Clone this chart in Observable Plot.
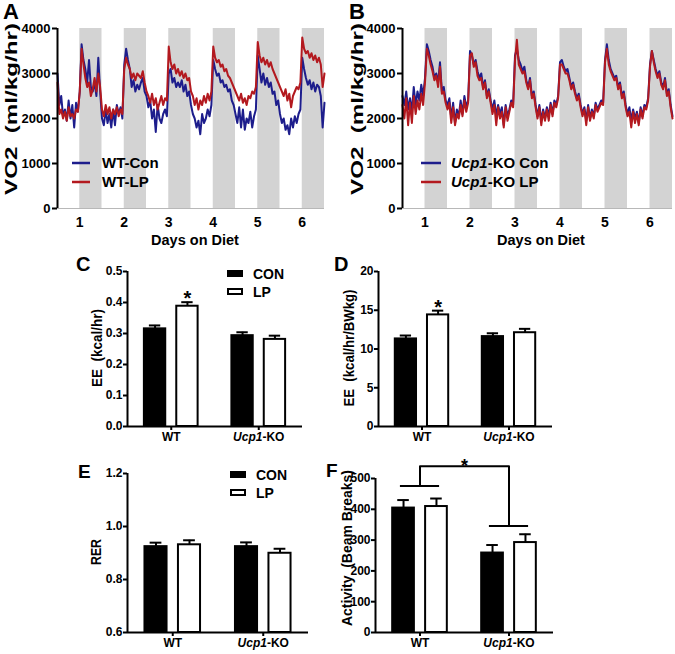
<!DOCTYPE html>
<html><head><meta charset="utf-8">
<script src="https://cdn.jsdelivr.net/npm/d3@7"></script>
<script src="https://cdn.jsdelivr.net/npm/@observablehq/plot@0.6"></script>
<style>
body{margin:0;background:#fff;}
#fig{position:relative;width:675px;height:654px;overflow:hidden;font-family:"Liberation Sans",Arial,sans-serif;font-weight:bold;}
#fig svg{position:absolute;}
</style></head><body><div id="fig"></div>
<script>
// ---------- DATA ----------
// VO2 time course, hourly samples, hours 0..144
const hours = d3.range(0, 145);
const darkStart = [12, 36, 60, 84, 108, 132];
const darkEnd = [24, 48, 72, 96, 120, 144];
const dayLabels = ["1", "2", "3", "4", "5", "6"];
const vo2Ticks = [0, 1000, 2000, 3000, 4000];

const wtCon = [
 3000,2300,2500,2050,2200,1950,2400,2000,2300,1800,2350,2150,
 2600,3650,3300,3100,2800,3300,2700,2600,2800,2500,3350,2600,
 2000,1850,2200,1900,2100,1800,2200,1850,2300,2100,2250,2000,
 3200,3550,3300,3100,2700,2850,2600,2750,2650,2800,2900,2600,
 2500,2250,2400,2000,2200,1700,2300,2000,1900,2100,2200,2050,
 3000,3100,2800,2900,2700,2800,2700,2850,2600,2750,2500,2600,
 2300,2100,2000,1800,1950,1650,2100,1900,2000,2200,2050,2300,
 3300,3100,2950,3000,2800,2850,2700,2750,2600,2650,2400,2300,
 2100,1900,2250,1800,2200,1750,2000,1900,2150,1800,2050,2200,
 3400,3100,2800,3000,2750,2900,2700,2800,2550,2600,2300,2400,
 2100,1900,2000,1750,1850,1650,2000,1800,2050,1900,2100,2200,
 3350,3100,2900,2750,2850,2650,2800,2600,2750,2700,2500,1800,2350];
const wtLP = [
 2800,2100,2200,2000,2150,1950,2250,2050,2100,2000,2200,2150,
 2600,3550,3200,2900,2700,2800,2500,2650,2900,2600,3000,2700,
 2200,2050,2300,2100,2250,2000,2200,2100,2250,2050,2200,2100,
 3100,3350,3200,3100,2900,3000,2850,3000,2950,2900,3050,2800,
 2600,2500,2350,2550,2300,2450,2200,2350,2500,2300,2450,2400,
 3600,3250,3100,3200,3000,3100,2950,3050,2900,3000,2850,2900,
 2600,2500,2300,2450,2200,2400,2300,2500,2350,2550,2400,2600,
 3600,3350,3250,3300,3150,3200,3050,3100,2950,2900,2800,2700,
 2600,2500,2400,2550,2350,2450,2300,2500,2450,2600,2550,2700,
 3700,3400,3250,3350,3200,3300,3150,3250,3100,3000,2900,2800,
 2700,2600,2500,2650,2400,2550,2250,2500,2600,2700,2650,2800,
 3800,3550,3450,3500,3350,3450,3300,3400,3250,3350,3200,2700,3000];
const koCon = [
 2500,2300,2600,2200,2450,2150,2700,2300,2600,2400,2750,2500,
 2900,3650,3500,3300,3150,2900,3000,2800,3250,2600,2700,2400,
 2300,2450,2000,2350,1900,2200,2050,2400,2100,2500,2250,2400,
 3500,3400,3200,3300,3050,2900,3000,2700,2850,2500,2650,2400,
 2200,2400,2050,2300,2100,2250,1850,2300,2050,2200,2400,2300,
 3400,3550,3300,3200,3050,3150,2850,2700,2900,2500,2600,2300,
 2050,2300,1950,2200,2000,2250,2050,2350,2100,2400,2300,2500,
 3250,3300,3150,3050,3100,2900,2700,2800,2600,2450,2550,2300,
 2100,2250,1950,2300,2000,2200,2050,2350,2200,2300,2400,2350,
 3300,3650,3300,3100,3000,2900,2950,2700,2800,2500,2600,2300,
 2100,2250,1950,2200,2000,2150,1900,2250,2050,2300,2250,2450,
 3200,3500,3300,3100,2950,3050,2800,2700,2900,2550,2650,2300,2050];
const koLP = [
 2300,2000,2450,1850,2350,1900,2500,2100,2400,2200,2550,2300,
 2800,3550,3400,3200,3050,2850,2950,2700,3150,2550,2600,2350,
 2200,2350,1900,2250,1850,2100,2000,2300,2050,2400,2150,2350,
 3400,3450,3150,3250,2950,2850,2900,2650,2800,2450,2600,2350,
 2100,2300,1850,2250,2000,2150,1800,2250,1950,2150,2350,2250,
 3300,3750,3200,3100,3000,3050,2800,2650,2850,2450,2550,2250,
 2000,2250,1850,2150,1950,2200,1950,2300,2050,2350,2250,2450,
 3200,3200,3100,3000,3000,2850,2650,2750,2550,2400,2500,2250,
 2050,2200,1850,2250,1950,2150,2000,2300,2150,2250,2350,2300,
 3250,3550,3200,3050,2950,2850,2900,2650,2750,2450,2550,2250,
 2050,2150,1800,2150,1900,2100,1850,2200,2000,2250,2200,2400,
 3150,3500,3250,3050,2900,3000,2750,2650,2850,2500,2600,2250,2000];

// Bar panels: groups x diets
const groups = ["WT", "Ucp1-KO"];
const diets = ["CON", "LP"];
// C: EE (kcal/hr)
const eeHrCON = [0.315, 0.293], eeHrLP = [0.388, 0.281];
const eeHrCONsem = [0.011, 0.011], eeHrLPsem = [0.013, 0.012];
const eeHrTicks = [0, 0.1, 0.2, 0.3, 0.4, 0.5];
// D: EE (kcal/hr/BWkg)
const eeKgCON = [11.3, 11.6], eeKgLP = [14.4, 12.1];
const eeKgCONsem = [0.44, 0.43], eeKgLPsem = [0.55, 0.5];
const eeKgTicks = [0, 5, 10, 15, 20];
// E: RER
const rerCON = [0.924, 0.924], rerLP = [0.931, 0.899];
const rerCONsem = [0.015, 0.016], rerLPsem = [0.017, 0.017];
const rerTicks = [0.6, 0.8, 1.0, 1.2];
// F: Activity (beam breaks)
const actCON = [404, 258], actLP = [409, 292];
const actCONsem = [26, 26], actLPsem = [26, 27];
const actTicks = [0, 100, 200, 300, 400, 500];
const actGroupLine = [476, 346];   // level of each group's bracket bar
const actBracketTop = 540;

// ---------- STYLE ----------
const FONT = '"Liberation Sans", Arial, sans-serif';
const BLUE = "#1d1d8c", RED = "#b3191f", GRAY = "#d3d3d3";
const baseStyle = {fontFamily: FONT, fontWeight: "bold", background: "transparent", overflow: "visible"};
const fig = document.getElementById("fig");

function place(svg, left, top) {
  svg.style.left = left + "px"; svg.style.top = top + "px";
  svg.style.maxWidth = "none";
  fig.appendChild(svg);
  d3.select(svg).selectAll("text").filter(function () { return this.textContent === "Ucp1-KO"; })
    .each(function () {
      const t = d3.select(this); t.text(null);
      t.append("tspan").attr("font-style", "italic").text("Ucp1");
      t.append("tspan").text("-KO");
    });
  return svg;
}

function vo2Panel({left, width, ml, mr, con, lp}) {
  const rowsCon = hours.map((h, i) => ({h, v: con[i]}));
  const rowsLP = hours.map((h, i) => ({h, v: lp[i]}));
  const bands = darkStart.map((s, i) => ({s, e: darkEnd[i]}));
  const svg = Plot.plot({
    width, height: 250, marginLeft: ml, marginRight: mr, marginTop: 28, marginBottom: 42,
    style: baseStyle,
    x: {domain: [0, 144]},
    y: {domain: [0, 4000]},
    marks: [
      Plot.rect(bands, {x1: "s", x2: "e", fill: GRAY}),
      Plot.ruleY([0], {stroke: "#b8b8b8", strokeWidth: 1}),
      Plot.line(rowsCon, {x: "h", y: "v", stroke: BLUE, strokeWidth: 2}),
      Plot.line(rowsLP, {x: "h", y: "v", stroke: RED, strokeWidth: 2}),
      Plot.ruleX([0], {y1: 0, y2: 4000, strokeWidth: 2}),
      Plot.axisY({ticks: vo2Ticks, tickFormat: d => String(d), tickSize: 5, tickPadding: 2,
                  strokeWidth: 2, label: null, fontSize: 13}),
      Plot.axisX({ticks: darkStart, tickFormat: d => dayLabels[darkStart.indexOf(d)], tickSize: 0,
                  tickPadding: 9, label: null, fontSize: 14})
    ]
  });
  return place(svg, left, 0);
}

function barPanel({left, top, width, height, ml, mr, mt, mb, con, lp, conSem, lpSem, yDomain, ticks, fmt, star, bracket}) {
  const off = [-0.185, 0.185], hw = 0.122, cap = 0.065;
  const rows = [];
  groups.forEach((g, gi) => {
    rows.push({g: gi, d: 0, c: gi + off[0], mean: con[gi], sem: conSem[gi]});
    rows.push({g: gi, d: 1, c: gi + off[1], mean: lp[gi], sem: lpSem[gi]});
  });
  const y0 = yDomain[0], y1 = yDomain[1];
  const marks = [
    Plot.ruleX(rows, {x: "c", y1: "mean", y2: r => r.mean + r.sem, strokeWidth: 2}),
    Plot.ruleY(rows, {y: r => r.mean + r.sem, x1: r => r.c - cap, x2: r => r.c + cap, strokeWidth: 2}),
    Plot.rect(rows, {x1: r => r.c - hw, x2: r => r.c + hw, y1: y0, y2: "mean",
                     fill: r => r.d === 0 ? "black" : "white", stroke: "black", strokeWidth: 2}),
    Plot.ruleX([-0.5], {y1: y0, y2: y1, strokeWidth: 2}),
    Plot.ruleY([y0], {x1: -0.5, x2: 1.5, strokeWidth: 2}),
    Plot.axisY({ticks, tickFormat: fmt, tickSize: 4, tickPadding: 1, strokeWidth: 2, label: null, fontSize: 12}),
    Plot.axisX({ticks: [0, 1], tickFormat: i => groups[i], tickSize: 4, tickPadding: 2, strokeWidth: 2,
                label: null, fontSize: 12})
  ];
  if (star) {
    const r = rows.find(r => r.g === star.g && r.d === star.d);
    marks.push(Plot.text([r], {x: "c", y: d => d.mean + d.sem, text: () => "*", fontSize: 20, dy: star.dy}));
  }
  if (bracket) {
    const pts = [
      {x: 0, y: bracket.levels[0]}, {x: 0, y: bracket.top},
      {x: 1, y: bracket.top}, {x: 1, y: bracket.levels[1]}];
    const bars = bracket.levels.map((lv, gi) => ({gi, lv}));
    marks.push(Plot.line(pts, {x: "x", y: "y", strokeWidth: 2}));
    marks.push(Plot.ruleY(bars, {y: "lv", x1: d => d.gi - 0.22, x2: d => d.gi + 0.22, strokeWidth: 2}));
    marks.push(Plot.text([{x: 0.5, y: bracket.top}], {x: "x", y: "y", text: () => "*", fontSize: 18, dy: 0}));
  }
  const svg = Plot.plot({
    width, height, marginLeft: ml, marginRight: mr, marginTop: mt, marginBottom: mb,
    style: baseStyle,
    x: {domain: [-0.5, 1.5]},
    y: {domain: yDomain},
    marks
  });
  return place(svg, left, top);
}

// ---------- PANELS ----------
vo2Panel({left: 0, width: 337, ml: 57, mr: 13, con: wtCon, lp: wtLP});
vo2Panel({left: 337, width: 338, ml: 65, mr: 3, con: koCon, lp: koLP});

barPanel({left: 0, top: 250, width: 337, height: 200, ml: 127, mr: 35, mt: 21, mb: 24,
  con: eeHrCON, lp: eeHrLP, conSem: eeHrCONsem, lpSem: eeHrLPsem, yDomain: [0, 0.5], ticks: eeHrTicks,
  fmt: d3.format(".1f"), star: {g: 0, d: 1, dy: -4}});
barPanel({left: 337, top: 250, width: 338, height: 200, ml: 41, mr: 123, mt: 21, mb: 24,
  con: eeKgCON, lp: eeKgLP, conSem: eeKgCONsem, lpSem: eeKgLPsem, yDomain: [0, 20], ticks: eeKgTicks,
  fmt: d => String(d), star: {g: 0, d: 1, dy: -3}});
barPanel({left: 0, top: 450, width: 337, height: 204, ml: 127, mr: 29, mt: 23, mb: 22,
  con: rerCON, lp: rerLP, conSem: rerCONsem, lpSem: rerLPsem, yDomain: [0.6, 1.2], ticks: rerTicks,
  fmt: d3.format(".1f")});
barPanel({left: 337, top: 450, width: 338, height: 204, ml: 38, mr: 122, mt: 28, mb: 22,
  con: actCON, lp: actLP, conSem: actCONsem, lpSem: actLPsem, yDomain: [0, 500], ticks: actTicks,
  fmt: d => String(d), bracket: {levels: actGroupLine, top: actBracketTop}});

// ---------- OVERLAY: panel letters, axis titles, legends ----------
const ov = d3.select(fig).append("svg").attr("width", 675).attr("height", 654)
  .style("left", "0px").style("top", "0px").style("pointer-events", "none")
  .attr("font-family", FONT).attr("font-weight", "bold");

[["A", 3, 19, 22], ["B", 349, 19, 22], ["C", 76, 271, 20], ["D", 334, 271, 20], ["E", 78, 478, 19], ["F", 326, 477, 19]]
  .forEach(([t, x, y, s]) => ov.append("text").attr("x", x).attr("y", y).attr("font-size", s).text(t));

function ylab(text, x, y, size, len) {
  const t = ov.append("text").attr("transform", `translate(${x},${y}) rotate(-90)`)
    .attr("text-anchor", "middle").attr("dominant-baseline", "central").attr("font-size", size)
    .attr("xml:space", "preserve").text(text);
  if (len) t.attr("textLength", len).attr("lengthAdjust", "spacingAndGlyphs");
}
ylab("VO2  (ml/kg/hr)", 11, 109, 17, 172);
ylab("VO2  (ml/kg/hr)", 357, 109, 17, 172);
ylab("EE  (kcal/hr)", 96, 348, 15, 78);
ylab("EE  (kcal/hr/BWkg)", 348, 348, 15, 117);
ylab("RER", 95, 552, 15, 26);
ylab("Activity  (Beam Breaks)", 347, 548, 14.5, 156);

ov.append("text").attr("x", 195).attr("y", 245).attr("text-anchor", "middle").attr("font-size", 14.5).text("Days on Diet");
ov.append("text").attr("x", 541).attr("y", 245).attr("text-anchor", "middle").attr("font-size", 14.5).text("Days on Diet");

// line legends
function lineLegend(x1, x2, tx, items) {
  items.forEach(([color, label, italic], i) => {
    const y = 163 + i * 19;
    ov.append("line").attr("x1", x1).attr("x2", x2).attr("y1", y).attr("y2", y).attr("stroke", color).attr("stroke-width", 2.5);
    const t = ov.append("text").attr("x", tx).attr("y", y + 5).attr("font-size", 15);
    if (italic) { t.append("tspan").attr("font-style", "italic").text("Ucp1"); t.append("tspan").text(label); }
    else t.text(label);
  });
}
lineLegend(72, 90, 102, [[BLUE, "WT-Con"], [RED, "WT-LP"]]);
lineLegend(421, 441, 451, [[BLUE, "-KO Con", true], [RED, "-KO LP", true]]);

// bar legends
function barLegend(x, y) {
  ov.append("rect").attr("x", x).attr("y", y).attr("width", 16).attr("height", 7).attr("fill", "black");
  ov.append("text").attr("x", x + 26).attr("y", y + 8.5).attr("font-size", 14).text(diets[0]);
  ov.append("rect").attr("x", x + 1).attr("y", y + 19).attr("width", 14).attr("height", 5)
    .attr("fill", "white").attr("stroke", "black").attr("stroke-width", 2);
  ov.append("text").attr("x", x + 26).attr("y", y + 27).attr("font-size", 14).text(diets[1]);
}
barLegend(227, 270);
barLegend(230, 471);
</script></body></html>
